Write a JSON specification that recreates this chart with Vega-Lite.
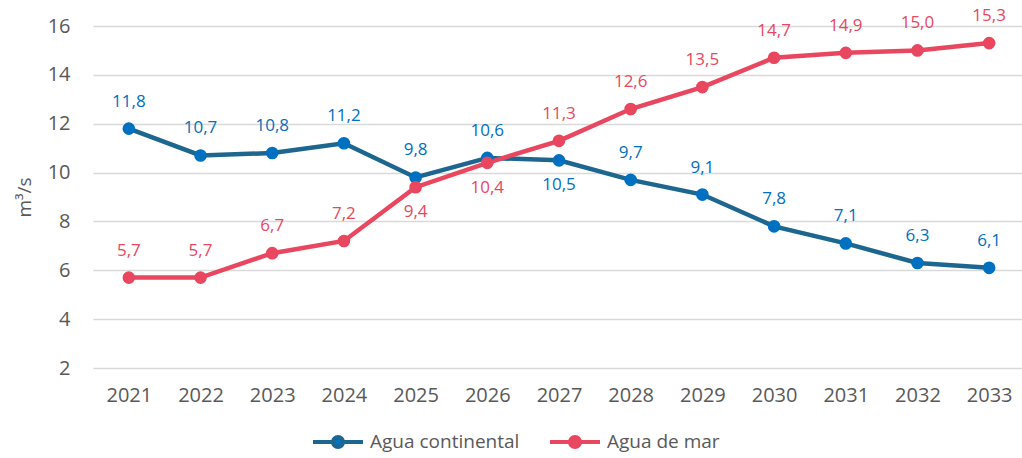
{
  "$schema": "https://vega.github.io/schema/vega-lite/v6.json",
  "width": 932,
  "height": 342,
  "autosize": {"type": "none"},
  "padding": {"left": 93, "top": 26, "right": 0, "bottom": 90},
  "background": "white",
  "config": {
    "view": {"stroke": null},
    "font": "Open Sans",
    "locale": {"number": {"decimal": ",", "thousands": ".", "grouping": [3], "currency": ["", " €"]}}
  },
  "data": {
    "values": [
      {"year": "2021", "serie": "Agua continental", "value": 11.8, "pos": "above"},
      {"year": "2022", "serie": "Agua continental", "value": 10.7, "pos": "above"},
      {"year": "2023", "serie": "Agua continental", "value": 10.8, "pos": "above"},
      {"year": "2024", "serie": "Agua continental", "value": 11.2, "pos": "above"},
      {"year": "2025", "serie": "Agua continental", "value": 9.8, "pos": "above"},
      {"year": "2026", "serie": "Agua continental", "value": 10.6, "pos": "above"},
      {"year": "2027", "serie": "Agua continental", "value": 10.5, "pos": "below"},
      {"year": "2028", "serie": "Agua continental", "value": 9.7, "pos": "above"},
      {"year": "2029", "serie": "Agua continental", "value": 9.1, "pos": "above"},
      {"year": "2030", "serie": "Agua continental", "value": 7.8, "pos": "above"},
      {"year": "2031", "serie": "Agua continental", "value": 7.1, "pos": "above"},
      {"year": "2032", "serie": "Agua continental", "value": 6.3, "pos": "above"},
      {"year": "2033", "serie": "Agua continental", "value": 6.1, "pos": "above"},
      {"year": "2021", "serie": "Agua de mar", "value": 5.7, "pos": "above"},
      {"year": "2022", "serie": "Agua de mar", "value": 5.7, "pos": "above"},
      {"year": "2023", "serie": "Agua de mar", "value": 6.7, "pos": "above"},
      {"year": "2024", "serie": "Agua de mar", "value": 7.2, "pos": "above"},
      {"year": "2025", "serie": "Agua de mar", "value": 9.4, "pos": "below"},
      {"year": "2026", "serie": "Agua de mar", "value": 10.4, "pos": "below"},
      {"year": "2027", "serie": "Agua de mar", "value": 11.3, "pos": "above"},
      {"year": "2028", "serie": "Agua de mar", "value": 12.6, "pos": "above"},
      {"year": "2029", "serie": "Agua de mar", "value": 13.5, "pos": "above"},
      {"year": "2030", "serie": "Agua de mar", "value": 14.7, "pos": "above"},
      {"year": "2031", "serie": "Agua de mar", "value": 14.9, "pos": "above"},
      {"year": "2032", "serie": "Agua de mar", "value": 15.0, "pos": "above"},
      {"year": "2033", "serie": "Agua de mar", "value": 15.3, "pos": "above"}
    ]
  },
  "encoding": {
    "x": {
      "field": "year", "type": "ordinal", "title": null,
      "scale": {"type": "point", "padding": 0.5},
      "axis": {"labelAngle": 0, "domain": false, "ticks": false, "grid": false, "labelFontSize": 20, "labelColor": "#595959", "labelPadding": 17, "labelFont": "Open Sans"}
    },
    "y": {
      "field": "value", "type": "quantitative",
      "scale": {"domain": [2, 16], "nice": false, "zero": false},
      "axis": {"values": [2, 4, 6, 8, 10, 12, 14, 16], "title": "m³/s", "domain": false, "ticks": false, "grid": true, "gridColor": "#D9D9D9", "gridWidth": 1.5, "labelFontSize": 20, "labelColor": "#595959", "labelPadding": 23, "labelFont": "Open Sans", "titleFont": "Open Sans", "titleFontSize": 19, "titleFontWeight": "normal", "titleColor": "#595959", "titlePadding": 13}
    }
  },
  "layer": [
    {
      "mark": {"type": "line", "strokeWidth": 4.5},
      "encoding": {
        "color": {
          "field": "serie", "type": "nominal",
          "scale": {"domain": ["Agua continental", "Agua de mar"], "range": ["#1D6690", "#E8475F"]},
          "legend": {
            "title": null, "orient": "none", "direction": "horizontal",
            "legendX": 218, "legendY": 389,
            "symbolType": "M-1,0H-0.24M0.24,0H1M-0.2,0A0.2,0.2 0 1,0 0.2,0A0.2,0.2 0 1,0 -0.2,0",
            "symbolSize": 2500, "symbolStrokeWidth": 4,
            "labelFontSize": 19, "labelColor": "#595959", "labelFont": "Open Sans", "labelOffset": 5,
            "columnPadding": 22, "padding": 0,
            "encode": {"symbols": {"update": {"fill": {"scale": "fill", "field": "value"}}}}
          }
        }
      }
    },
    {
      "mark": {"type": "point", "filled": true, "size": 160, "opacity": 1},
      "encoding": {
        "fill": {
          "field": "serie", "type": "nominal",
          "scale": {"domain": ["Agua continental", "Agua de mar"], "range": ["#0070C0", "#E8475F"]},
          "legend": null
        }
      }
    },
    {
      "transform": [{"filter": "datum.pos == 'above'"}],
      "mark": {"type": "text", "dy": -27, "fontSize": 17, "font": "Open Sans"},
      "encoding": {
        "text": {"field": "value", "type": "quantitative", "format": ".1f"},
        "color": {"field": "serie", "type": "nominal", "scale": {"domain": ["Agua continental", "Agua de mar"], "range": ["#0070C0", "#E8475F"]}, "legend": null}
      }
    },
    {
      "transform": [{"filter": "datum.pos == 'below'"}],
      "mark": {"type": "text", "dy": 25, "fontSize": 17, "font": "Open Sans"},
      "encoding": {
        "text": {"field": "value", "type": "quantitative", "format": ".1f"},
        "color": {"field": "serie", "type": "nominal", "scale": {"domain": ["Agua continental", "Agua de mar"], "range": ["#0070C0", "#E8475F"]}, "legend": null}
      }
    }
  ],
  "resolve": {"scale": {"color": "independent"}}
}
